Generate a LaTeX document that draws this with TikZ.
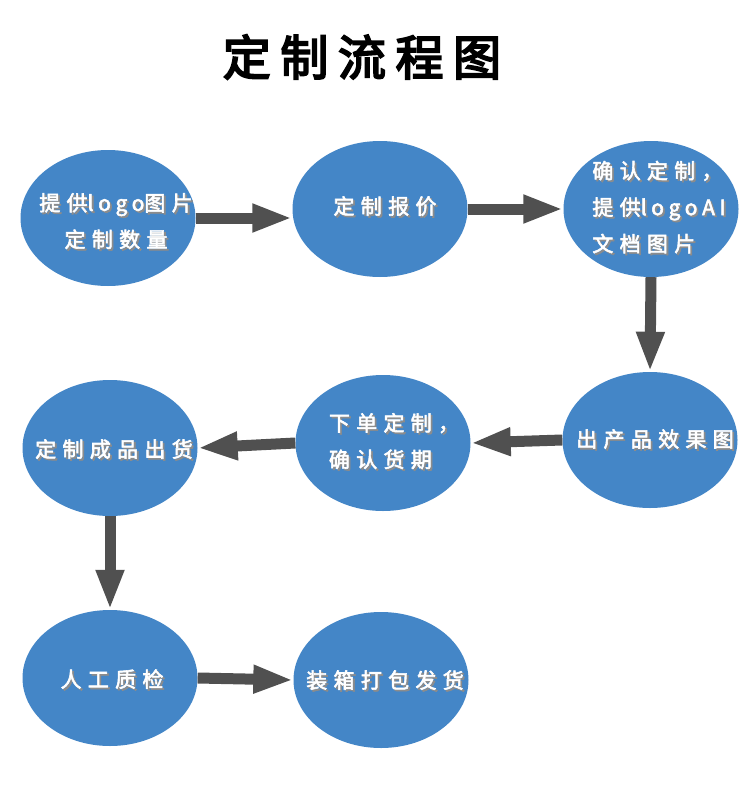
\documentclass[tikz,border=0pt]{standalone}
\usepackage{fontspec}
\usetikzlibrary{shapes.geometric,arrows.meta}
\newfontfamily\cjkt{Noto Sans CJK SC}[FakeBold=4,LetterSpace=20]
\newfontfamily\cjkn{Noto Sans CJK SC}[FakeBold=2.6,LetterSpace=30]
\definecolor{ellblue}{RGB}{68,134,199}
\definecolor{arrgray}{RGB}{80,80,80}
\newcommand\lat[1]{{\addfontfeature{LetterSpace=22}#1}}
\newcommand\sh[1]{\makebox[0pt][l]{\hspace{1.8pt}\raisebox{-1.8pt}{\color{black!45}#1}}#1}
\begin{document}
\begin{tikzpicture}[x=1pt,y=-1pt,
  bubble/.style={ellipse, fill=ellblue, minimum width=175pt, minimum height=136pt, inner sep=0pt},
  txt/.style={font=\cjkn\fontsize{21}{36.5}\selectfont, text=white, inner sep=0pt},
  flow/.style={line width=11pt, arrgray, -{Triangle[length=40pt,width=26pt]}}]
\useasboundingbox (0,0) rectangle (750,800);
\fill[white] (0,0) rectangle (750,800);

\node[font=\cjkt\fontsize{48}{52}\selectfont] (title) at (362,57) {定制流程图};

\node[bubble] (e1) at (108,218) {};
\node[bubble] (e2) at (380,209) {};
\node[bubble] (e3) at (651,209) {};
\node[bubble] (e4) at (650,440) {};
\node[bubble] (e5) at (383,443) {};
\node[bubble] (e6) at (110,448) {};
\node[bubble] (e7) at (110,678) {};
\node[bubble] (e8) at (381,680) {};

\node[txt,align=center] (t1) at (116,222) {\sh{提供\lat{logo}图片}\\\sh{定制数量}};
\node[txt,align=center] (t2) at (385,207) {\sh{定制报价}};
\node[txt,align=left] (t3) at (659,208) {\sh{确认定制，}\\\sh{提供\lat{logoAI}}\\\sh{文档图片}};
\node[txt,align=center] (t4) at (655,440) {\sh{出产品效果图}};
\node[txt,align=left] (t5) at (394,442) {\sh{下单定制，}\\\sh{确认货期}};
\node[txt,align=center] (t6) at (114,450) {\sh{定制成品出货}};
\node[txt,align=center] (t7) at (112,680) {\sh{人工质检}};
\node[txt,align=center] (t8) at (385,681) {\sh{装箱打包发货}};

\draw[flow] (e1.east) -- (e1.east -| e2.west);
\draw[flow] (e2.east) -- (e2.east -| e3.west);
\draw[flow] (e3.south) -- (e4.north);
\draw[flow] (e4.west) -- (e5.east);
\draw[flow] (e5.west) -- (e6.east);
\draw[flow] (e6.south) -- (e7.north);
\draw[flow] (e7.east) -- (e8.west);
\end{tikzpicture}
\end{document}
